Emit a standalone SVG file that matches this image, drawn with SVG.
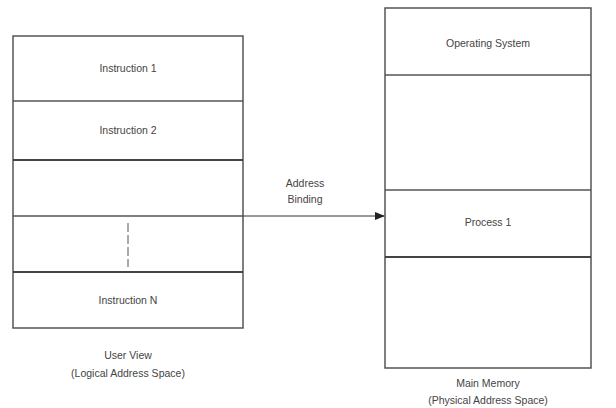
<svg xmlns="http://www.w3.org/2000/svg" width="616" height="408" viewBox="0 0 616 408">
<style>
.box{fill:#fff;stroke:#555;stroke-width:1.5}
.ln{stroke:#555;stroke-width:1.5}
.thick{stroke:#444;stroke-width:2}
text{font-family:"Liberation Sans",Arial,sans-serif;font-size:10.5px;fill:#444;text-anchor:middle}
</style>
<defs>
<marker id="ah" markerWidth="10" markerHeight="8" refX="9" refY="4" orient="auto" markerUnits="userSpaceOnUse">
<path d="M0,0 L10,4 L0,8 Z" fill="#222"/>
</marker>
</defs>
<rect width="616" height="408" fill="#fff"/>
<g id="user-view">
<rect class="box" x="13" y="36" width="230" height="292"/>
<line class="ln" x1="13" y1="101" x2="243" y2="101"/>
<line class="thick" x1="13" y1="160" x2="243" y2="160"/>
<line class="ln" x1="13" y1="216" x2="243" y2="216"/>
<line class="thick" x1="13" y1="272" x2="243" y2="272"/>
<line stroke="#555" stroke-width="1" stroke-dasharray="9,3" x1="128" y1="223" x2="128" y2="267"/>
<text x="128" y="72">Instruction 1</text>
<text x="128" y="134">Instruction 2</text>
<text x="128" y="304">Instruction N</text>
<text x="128" y="359">User View</text>
<text x="128" y="377">(Logical Address Space)</text>
</g>
<g id="main-memory">
<rect class="box" x="385" y="8" width="206" height="360"/>
<line class="ln" x1="385" y1="75" x2="591" y2="75"/>
<line class="ln" x1="385" y1="190" x2="591" y2="190"/>
<line class="thick" x1="385" y1="257" x2="591" y2="257"/>
<text x="488" y="47">Operating System</text>
<text x="488" y="226">Process 1</text>
<text x="488" y="387">Main Memory</text>
<text x="488" y="404">(Physical Address Space)</text>
</g>
<g id="connectors">
<line stroke="#333" stroke-width="1" x1="243" y1="216" x2="384" y2="216" marker-end="url(#ah)"/>
<text x="305" y="187">Address</text>
<text x="305" y="203">Binding</text>
</g>
</svg>
